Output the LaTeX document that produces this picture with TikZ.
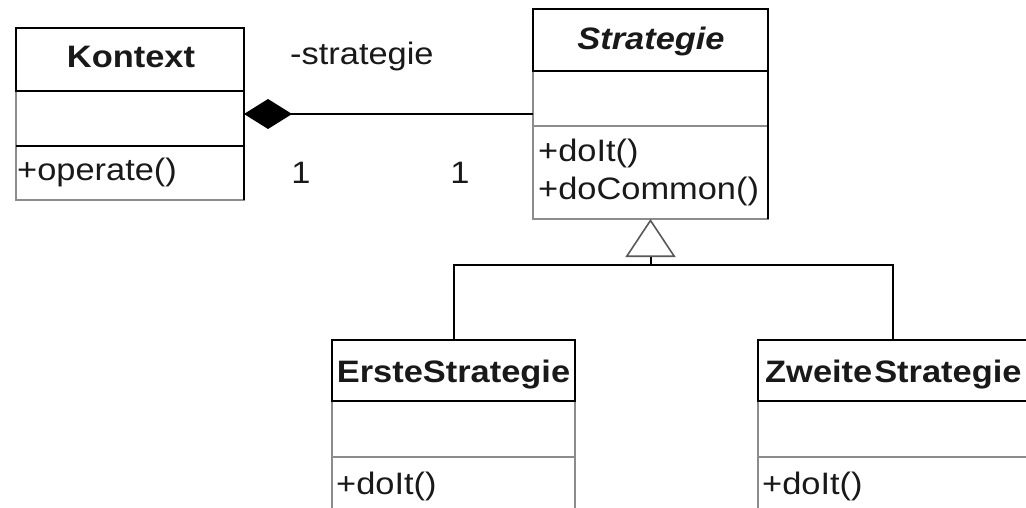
\documentclass[tikz,border=0pt]{standalone}
\usepackage{fontspec}
\setmainfont{Liberation Sans}[FakeStretch=1.11]
\usetikzlibrary{arrows.meta,calc}
\begin{document}
\begin{tikzpicture}[x=1pt,y=-1pt,
  font=\fontsize{31}{37}\selectfont,
  hdr/.style={draw=black,line width=2pt,fill=white,inner sep=0pt,outer sep=0pt,anchor=north west},
  cmp/.style={draw=black!45,line width=2pt,inner sep=0pt,outer sep=0pt,anchor=north west},
  txt/.style={inner sep=0pt,text=black!90},
  edge/.style={black,line width=2pt},
  conn/.style={draw=black,line width=2pt},
  comp/.style={conn,{Diamond[length=48pt,width=30pt,fill=black]}-},
  inh/.style={conn,-{Triangle[open,length=38pt,width=50pt,fill=white,line width=1.6pt,color=black!65]}}
]
\useasboundingbox (0,0) rectangle (1026,508);
\clip (0,0) rectangle (1026,508);
\fill[white] (0,0) rectangle (1026,508);

% Kontext
\node[cmp,minimum width=228pt,minimum height=55pt] (katt) at (16,91) {};
\node[cmp,minimum width=228pt,minimum height=54pt] (kops) at (16,146) {};
\node[hdr,minimum width=228pt,minimum height=63pt] (khdr) at (16,28) {};
\draw[edge] (katt.north east) -- (kops.south east);
\draw[edge] (kops.north west) -- (kops.north east);
\node[txt,anchor=base,font=\fontsize{31}{37}\selectfont\bfseries] (ktxt) at (131,68) {Kontext};
\node[txt,anchor=base west] (kop) at (17,181) {+operate()};

% Strategie
\node[cmp,minimum width=235pt,minimum height=55pt] (satt) at (533,71) {};
\node[cmp,minimum width=235pt,minimum height=93pt] (sops) at (533,126) {};
\node[hdr,minimum width=235pt,minimum height=62pt] (shdr) at (533,9) {};
\draw[edge] (satt.north east) -- (sops.south east);
\node[txt,anchor=base,font=\fontsize{31}{37}\selectfont\bfseries\itshape] (stxt) at (651,50) {Strategie};
\node[txt,anchor=base west] (sop1) at (538,162) {+doIt()};
\node[txt,anchor=base west] (sop2) at (538,200) {+doCommon()};

% ErsteStrategie
\node[cmp,minimum width=243pt,minimum height=56pt] (eatt) at (332,401) {};
\node[cmp,minimum width=243pt,minimum height=80pt] (eops) at (332,457) {};
\node[hdr,minimum width=243pt,minimum height=61pt] (ehdr) at (332,340) {};
\node[txt,anchor=base,font=\fontsize{31}{37}\selectfont\bfseries] (etxt) at (453.5,382) {ErsteStrategie};
\node[txt,anchor=base west] (eop) at (336,494) {+doIt()};

% ZweiteStrategie
\node[cmp,minimum width=270pt,minimum height=56pt] (zatt) at (758,401) {};
\node[cmp,minimum width=270pt,minimum height=80pt] (zops) at (758,457) {};
\node[hdr,minimum width=270pt,minimum height=61pt] (zhdr) at (758,340) {};
\node[txt,anchor=base west,font=\fontsize{31}{37}\selectfont\bfseries] (ztxt) at (765,382) {Zweite\kern2pt Strategie};
\node[txt,anchor=base west] (zop) at (762,494) {+doIt()};

% composition
\draw[comp] ([yshift=4.5pt]katt.east) -- ([yshift=4.5pt]katt.east -| satt.west);
\node[txt,anchor=base west] (role) at (290,65) {-strategie};
\node[txt,anchor=base] (m1) at (301,183) {1};
\node[txt,anchor=base] (m2) at (460,183) {1};

% generalisation
\coordinate (junc) at (650.5,265);
\draw[conn] (ehdr.north) |- (junc);
\draw[conn] (zhdr.north) |- (junc);
\draw[inh] (junc) -- (sops.south);
\end{tikzpicture}
\end{document}
